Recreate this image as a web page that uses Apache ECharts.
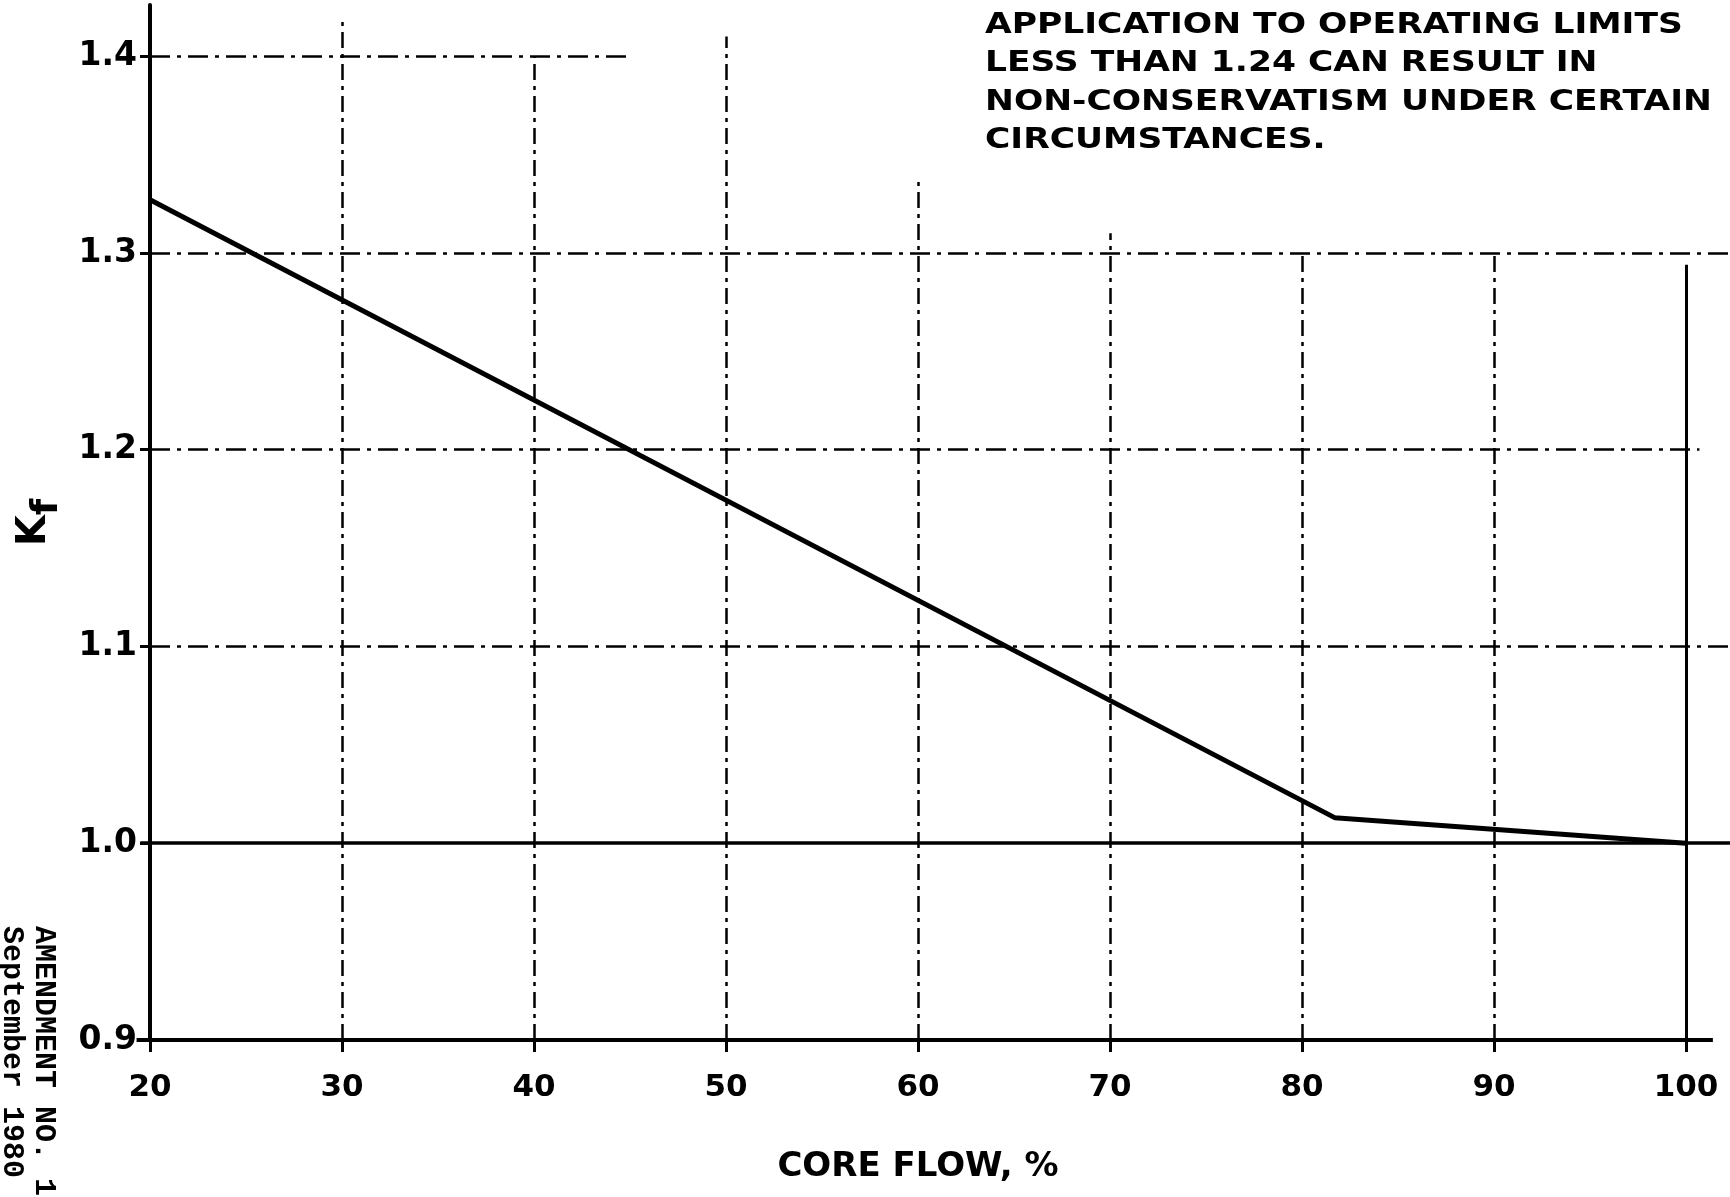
<!DOCTYPE html>
<html>
<head>
<meta charset="utf-8">
<script src="https://cdn.jsdelivr.net/npm/echarts@6/dist/echarts.min.js"></script>
<style>html,body{margin:0;padding:0;background:#fff}#c{width:1730px;height:1197px}</style>
</head>
<body>
<div id="c"></div>
<script>
// ---- data ----
const coreFlow = [20, 81.7, 100];          // core flow, %
const kfValues = [1.327, 1.013, 1.0];      // K_f
const xTickValues = [20, 30, 40, 50, 60, 70, 80, 90, 100];
const yTickValues = [0.9, 1.0, 1.1, 1.2, 1.3, 1.4];
const noteLines = [
  'APPLICATION TO OPERATING LIMITS',
  'LESS THAN 1.24 CAN RESULT IN',
  'NON-CONSERVATISM UNDER CERTAIN',
  'CIRCUMSTANCES.'
];
const xAxisTitle = 'CORE FLOW, %';
const amendmentText = ['AMENDMENT NO. 1', 'September 1980'];

// ---- grid lines (value extents as drawn on the sheet) ----
const hGrid = [
  { y: 0.9, from: 19.3, to: 101.4, solid: true, w: 4 },
  { y: 1.0, from: 19.5, to: 102.6, solid: true, w: 3.5 },
  { y: 1.1, from: 20, to: 102.3 },
  { y: 1.2, from: 20, to: 100.7 },
  { y: 1.3, from: 20, to: 102.3 },
  { y: 1.4, from: 20, to: 45 }
];
const vGridTop = { 30: 1.42, 40: 1.40, 50: 1.41, 60: 1.336, 70: 1.31, 80: 1.30, 90: 1.30, 100: 1.294 };

const gridData = [];
hGrid.forEach(g => {
  gridData.push({
    coords: [[g.from, g.y], [g.to, g.y]],
    lineStyle: g.solid ? { type: 'solid', width: g.w, color: '#000', opacity: 1 }
                       : { type: [20, 7, 4, 7], width: 2.5, color: '#000', opacity: 1 }
  });
});
xTickValues.slice(1).forEach(x => {
  const solid = x === 100;
  gridData.push({
    coords: [[x, 0.9], [x, vGridTop[x]]],
    lineStyle: solid ? { type: 'solid', width: 3, color: '#000', opacity: 1 }
                     : { type: [16, 6, 4, 6], width: 2.5, color: '#000', opacity: 1 }
  });
});

const chart = echarts.init(document.getElementById('c'), null, { renderer: 'canvas' });
const option = {
  backgroundColor: '#fff',
  animation: false,
  grid: { left: 150, right: 44, top: 5, bottom: 157 },
  xAxis: {
    type: 'value', min: 20, max: 100, interval: 10,
    axisLine: { show: true, onZero: false, lineStyle: { color: '#000', width: 4 } },
    axisTick: { show: true, length: 12, customValues: xTickValues, lineStyle: { color: '#000', width: 3 } },
    axisLabel: { customValues: xTickValues, fontSize: 31, fontWeight: 'bold', fontFamily: 'DejaVu Sans', color: '#000', margin: 32 },
    splitLine: { show: false },
    name: xAxisTitle, nameLocation: 'middle', nameGap: 110,
    nameTextStyle: { fontSize: 34, fontWeight: 'bold', fontFamily: 'DejaVu Sans', color: '#000' }
  },
  yAxis: {
    type: 'value', min: 0.9, max: 1.426,
    axisLine: { show: true, onZero: false, lineStyle: { color: '#000', width: 4 } },
    axisTick: { show: true, length: 10, customValues: yTickValues, lineStyle: { color: '#000', width: 3 } },
    axisLabel: { customValues: yTickValues, formatter: v => v.toFixed(1), fontSize: 33, fontWeight: 'bold', fontFamily: 'DejaVu Sans', color: '#000', margin: 13 },
    splitLine: { show: false },
    name: 'K{s|f}', nameLocation: 'middle', nameRotate: 90, nameGap: 84,
    nameTextStyle: {
      fontSize: 40, fontWeight: 'bold', fontFamily: 'DejaVu Sans', color: '#000',
      rich: { s: { fontSize: 38, fontWeight: 'bold', fontFamily: 'DejaVu Sans', color: '#000', padding: [24, 0, 0, 0] } }
    }
  },
  series: [
    {
      type: 'lines', coordinateSystem: 'cartesian2d', clip: false, silent: true, z: 1,
      data: gridData
    },
    {
      type: 'line', z: 5, clip: false, symbol: 'none', silent: true,
      data: coreFlow.map((x, i) => [x, kfValues[i]]),
      lineStyle: { color: '#000', width: 5 }
    }
  ],
  graphic: [
    {
      type: 'text', x: 985, y: 6, scaleX: 1.19, silent: true,
      style: { text: noteLines.join('\n'), font: 'bold 29px "DejaVu Sans"', lineHeight: 38.5, fill: '#000' }
    },
    {
      type: 'text', x: 60, y: 926, rotation: -Math.PI / 2, silent: true,
      style: { text: amendmentText.join('\n'), font: 'bold 30px "Liberation Mono"', lineHeight: 32, fill: '#000' }
    }
  ]
};
chart.setOption(option);
</script>
</body>
</html>
